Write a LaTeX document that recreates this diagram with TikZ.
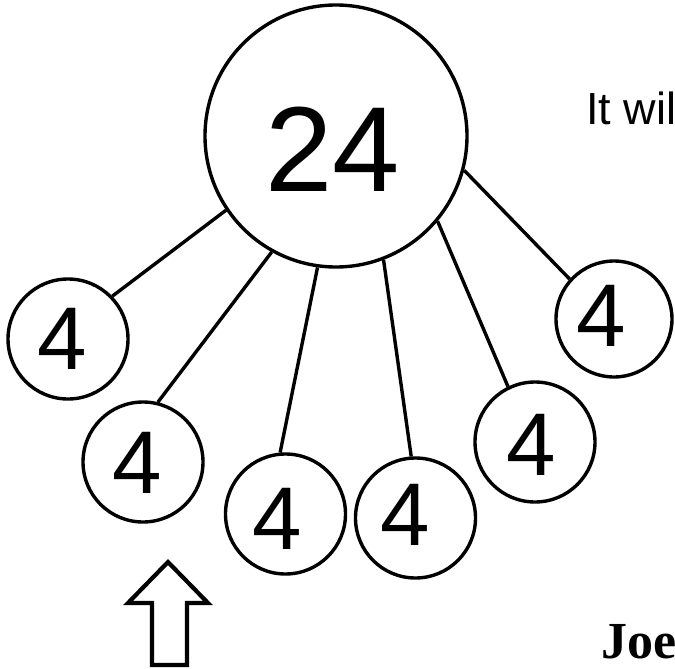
\documentclass[tikz,border=0pt]{standalone}
\usepackage{fontspec}
\setmainfont{Liberation Sans}
\newfontfamily\joefont{Liberation Serif}
\begin{document}
\begin{tikzpicture}[x=1pt,y=-1pt,
  bigc/.style={circle,draw,line width=3.4pt,minimum size=262pt,inner sep=0pt},
  smallc/.style={circle,draw,line width=3.4pt,minimum size=120pt,inner sep=0pt},
  num/.style={inner sep=0pt,font=\fontsize{89}{89}\selectfont},
  link/.style={line width=3.4pt},
  uparrow/.style={draw,line width=4.2pt,line join=miter}]
\useasboundingbox (0,0) rectangle (675,669);
% circles
\node[bigc] (big) at (336,136) {};
\node[smallc] (c1) at (68,339) {};
\node[smallc] (c2) at (143,462) {};
\node[smallc] (c3) at (285.5,514) {};
\node[smallc] (c4) at (415.5,518) {};
\node[smallc] (c5) at (535,442) {};
\node[smallc,minimum size=116pt] (c6) at (614,319) {};
% numbers
\node[inner sep=0pt,font=\fontsize{121}{121}\selectfont] (t24) at (332.5,149) {24};
\node[num] (t1) at (62.5,338.5) {4};
\node[num] (t2) at (137,463) {4};
\node[num] (t3) at (277,519) {4};
\node[num] (t4) at (405.5,515) {4};
\node[num] (t5) at (531,445) {4};
\node[num] (t6) at (601,316) {4};
% links
\draw[link] (big.214) -- (c1.44);
\draw[link] (big.-119) -- (c2.76);
\draw[link] (big.-98) -- (c3.95);
\draw[link] (big.-69.5) -- (c4.94);
\draw[link] (big.-40.7) -- (c5.116);
\draw[link] (big.-15) -- (c6.138);
% texts
\node[anchor=base west,inner sep=0pt,font=\fontsize{45}{45}\selectfont] (itwil) at (586,124.5) {It wil};
\node[anchor=base west,inner sep=0pt,font=\joefont\bfseries\fontsize{52}{52}\selectfont] (joe) at (601,658) {Joe};
% arrow
\draw[uparrow] (152,665) -- (152,603) -- (128,603) -- (168,562) -- (208,603) -- (187,603) -- (187,665) -- cycle;
\end{tikzpicture}
\end{document}
